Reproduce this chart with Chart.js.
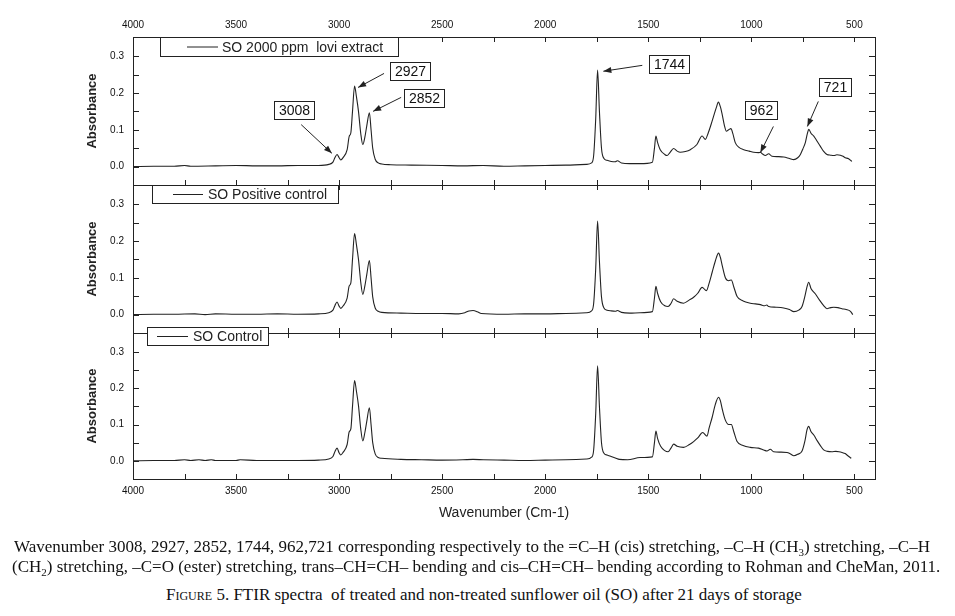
<!DOCTYPE html>
<html>
<head>
<meta charset="utf-8">
<script src="https://cdn.jsdelivr.net/npm/chart.js@4.4.1/dist/chart.umd.min.js"></script>
<style>
  body { margin: 0; background: #fff; width: 955px; height: 616px; position: relative; overflow: hidden; }
  canvas { position: absolute; left: 0; }
  .cap { position: absolute; font-family: "Liberation Serif", "Times New Roman", serif; color: #111; white-space: nowrap; line-height: 20px; font-size: 17px; }
  .cap sub { font-size: 11px; line-height: 0; }
</style>
</head>
<body>
<canvas id="p1" width="955" height="205" style="top:0px"></canvas>
<canvas id="p2" width="955" height="193" style="top:162px"></canvas>
<canvas id="p3" width="955" height="226" style="top:310px"></canvas>

<div class="cap" style="left:14px; top:537px">Wavenumber 3008, 2927, 2852, 1744, 962,721 corresponding respectively to the =C–H (cis) stretching, –C–H (CH<sub>3</sub>) stretching, –C–H</div>
<div class="cap" style="left:12px; top:557px">(CH<sub>2</sub>) stretching, –C=O (ester) stretching, trans–CH=CH– bending and cis–CH=CH– bending according to Rohman and CheMan, 2011.</div>
<div class="cap" style="left:166px; top:585px"><span style="font-variant:small-caps">Figure</span> 5. FTIR spectra&nbsp; of treated and non-treated sunflower oil (SO) after 21 days of storage</div>

<script>
// Axis ticks
const xMajorTicks = [4000, 3500, 3000, 2500, 2000, 1500, 1000, 500];
const xMinorTicks = [3750, 3250, 2750, 2250, 1750, 1250, 750];
const yMajorTicks = [0, 0.1, 0.2, 0.3];
const yMinorTicks = [0.05, 0.15, 0.25];

// Series labels
const seriesLabels = ["SO 2000 ppm  lovi extract", "SO Positive control", "SO Control"];

// [wavenumber, absorbance]
const loviExtract = [
  [4000, 0.000], [3900, 0.001], [3800, 0.001], [3750, 0.003], [3720, 0.001], [3600, 0.002],
  [3500, 0.003], [3400, 0.002], [3300, 0.002], [3200, 0.003], [3100, 0.003], [3050, 0.006],
  [3030, 0.012], [3020, 0.025], [3010, 0.033], [3000, 0.024], [2992, 0.018], [2980, 0.025],
  [2961, 0.046], [2951, 0.082], [2943, 0.092], [2935, 0.150], [2925, 0.219], [2916, 0.190],
  [2906, 0.150], [2895, 0.090], [2885, 0.060], [2875, 0.080], [2866, 0.110], [2853, 0.146],
  [2845, 0.100], [2837, 0.050], [2825, 0.020], [2810, 0.010], [2793, 0.007], [2750, 0.005],
  [2650, 0.004], [2500, 0.003], [2400, 0.002], [2300, 0.003], [2200, 0.001], [2100, 0.002],
  [2000, 0.003], [1900, 0.004], [1800, 0.006], [1775, 0.010], [1765, 0.030], [1755, 0.130],
  [1746, 0.262], [1737, 0.150], [1727, 0.050], [1715, 0.022], [1700, 0.017], [1680, 0.014],
  [1660, 0.013], [1650, 0.016], [1630, 0.010], [1590, 0.008], [1540, 0.008], [1480, 0.012],
  [1470, 0.050], [1463, 0.083], [1455, 0.066], [1442, 0.046], [1420, 0.033], [1409, 0.030],
  [1395, 0.038], [1377, 0.049], [1360, 0.042], [1345, 0.039], [1320, 0.041], [1296, 0.046],
  [1264, 0.060], [1239, 0.083], [1223, 0.074], [1210, 0.090], [1195, 0.115], [1183, 0.137],
  [1170, 0.160], [1160, 0.175], [1150, 0.162], [1143, 0.146], [1130, 0.110], [1121, 0.096],
  [1110, 0.100], [1099, 0.103], [1090, 0.090], [1078, 0.065], [1060, 0.052], [1037, 0.046],
  [1010, 0.042], [989, 0.039], [965, 0.038], [956, 0.039], [945, 0.034], [932, 0.030],
  [916, 0.035], [900, 0.028], [870, 0.027], [843, 0.026], [815, 0.022], [794, 0.019],
  [775, 0.024], [762, 0.033], [750, 0.048], [738, 0.065], [728, 0.090], [721, 0.101],
  [710, 0.090], [697, 0.083], [680, 0.068], [665, 0.055], [650, 0.042], [633, 0.033],
  [615, 0.031], [600, 0.030], [585, 0.032], [568, 0.031], [555, 0.028], [544, 0.024],
  [530, 0.022], [512, 0.014]
];

const positiveControl = [
  [4000, 0.000], [3900, 0.001], [3800, 0.001], [3700, 0.002], [3650, 0.000], [3600, 0.002],
  [3500, 0.001], [3400, 0.001], [3300, 0.002], [3200, 0.001], [3100, 0.002], [3050, 0.005],
  [3030, 0.012], [3020, 0.025], [3010, 0.034], [3000, 0.023], [2992, 0.017], [2980, 0.024],
  [2961, 0.045], [2951, 0.078], [2943, 0.086], [2935, 0.150], [2925, 0.220], [2916, 0.190],
  [2906, 0.150], [2895, 0.088], [2885, 0.055], [2875, 0.078], [2866, 0.108], [2853, 0.147],
  [2845, 0.100], [2837, 0.048], [2825, 0.018], [2810, 0.009], [2793, 0.006], [2700, 0.004],
  [2600, 0.003], [2500, 0.003], [2420, 0.002], [2390, 0.005], [2370, 0.010], [2350, 0.011],
  [2330, 0.008], [2310, 0.003], [2200, 0.001], [2100, 0.002], [2000, 0.002], [1900, 0.003],
  [1800, 0.005], [1775, 0.010], [1765, 0.030], [1755, 0.125], [1746, 0.254], [1737, 0.145],
  [1727, 0.048], [1715, 0.018], [1700, 0.012], [1680, 0.010], [1660, 0.009], [1650, 0.011],
  [1630, 0.006], [1590, 0.004], [1540, 0.005], [1480, 0.008], [1470, 0.045], [1463, 0.077],
  [1455, 0.058], [1440, 0.035], [1420, 0.024], [1404, 0.022], [1390, 0.030], [1377, 0.043],
  [1360, 0.036], [1329, 0.031], [1300, 0.040], [1280, 0.047], [1260, 0.058], [1239, 0.074],
  [1218, 0.065], [1205, 0.085], [1190, 0.115], [1175, 0.145], [1159, 0.167], [1150, 0.155],
  [1140, 0.130], [1126, 0.100], [1110, 0.092], [1097, 0.094], [1085, 0.075], [1069, 0.049],
  [1040, 0.037], [1005, 0.031], [980, 0.029], [956, 0.027], [935, 0.024], [925, 0.026],
  [916, 0.022], [880, 0.020], [843, 0.018], [815, 0.014], [794, 0.008], [770, 0.012],
  [754, 0.022], [740, 0.050], [730, 0.075], [722, 0.088], [710, 0.070], [689, 0.056],
  [670, 0.040], [650, 0.025], [633, 0.016], [615, 0.019], [600, 0.020], [580, 0.019],
  [560, 0.016], [540, 0.014], [519, 0.009], [508, 0.000]
];

const soControl = [
  [4000, 0.000], [3900, 0.001], [3800, 0.001], [3750, 0.003], [3720, 0.001], [3680, 0.003],
  [3650, 0.001], [3620, 0.003], [3600, 0.001], [3500, 0.001], [3480, 0.003], [3400, 0.001],
  [3300, 0.001], [3200, 0.001], [3100, 0.002], [3050, 0.005], [3030, 0.012], [3020, 0.026],
  [3010, 0.035], [3000, 0.022], [2992, 0.016], [2980, 0.024], [2961, 0.045], [2951, 0.080],
  [2943, 0.088], [2935, 0.150], [2925, 0.221], [2916, 0.192], [2906, 0.152], [2895, 0.088],
  [2885, 0.055], [2875, 0.078], [2866, 0.108], [2853, 0.146], [2845, 0.100], [2837, 0.050],
  [2825, 0.019], [2810, 0.009], [2793, 0.007], [2700, 0.004], [2600, 0.003], [2500, 0.002],
  [2400, 0.003], [2350, 0.004], [2300, 0.003], [2200, 0.002], [2100, 0.001], [2000, 0.002],
  [1900, 0.003], [1800, 0.005], [1775, 0.010], [1765, 0.030], [1755, 0.130], [1746, 0.262],
  [1737, 0.150], [1727, 0.050], [1715, 0.021], [1700, 0.016], [1680, 0.012], [1660, 0.008],
  [1640, 0.004], [1600, 0.003], [1540, 0.009], [1480, 0.011], [1470, 0.050], [1463, 0.082],
  [1455, 0.062], [1440, 0.040], [1420, 0.028], [1404, 0.025], [1390, 0.035], [1377, 0.046],
  [1360, 0.040], [1329, 0.037], [1300, 0.045], [1280, 0.053], [1260, 0.063], [1236, 0.078],
  [1215, 0.068], [1205, 0.090], [1190, 0.120], [1175, 0.155], [1159, 0.175], [1150, 0.165],
  [1140, 0.140], [1126, 0.112], [1110, 0.100], [1097, 0.100], [1085, 0.080], [1069, 0.053],
  [1040, 0.042], [1005, 0.037], [965, 0.035], [940, 0.030], [924, 0.027], [908, 0.032],
  [892, 0.025], [860, 0.024], [827, 0.023], [810, 0.019], [794, 0.014], [775, 0.018],
  [754, 0.027], [740, 0.055], [730, 0.085], [722, 0.095], [710, 0.080], [697, 0.071],
  [680, 0.055], [665, 0.042], [649, 0.030], [630, 0.026], [609, 0.025], [590, 0.026],
  [575, 0.025], [560, 0.023], [545, 0.020], [536, 0.016], [515, 0.007]
];

// Peak call-outs on the top panel: box centre, arrow tail, arrow tip in [wavenumber, absorbance]
const peakNotes = [
  { text: "3008", box: [3218, 0.153], tail: [3184, 0.114], tip: [3035, 0.036] },
  { text: "2927", box: [2655, 0.260], tail: [2782, 0.253], tip: [2908, 0.215] },
  { text: "2852", box: [2587, 0.187], tail: [2699, 0.188], tip: [2835, 0.150] },
  { text: "1744", box: [1400, 0.279], tail: [1529, 0.275], tip: [1718, 0.259] },
  { text: "962", box: [954, 0.154], tail: [893, 0.109], tip: [956, 0.038] },
  { text: "721", box: [595, 0.215], tail: [675, 0.177], tip: [728, 0.109] }
];

const INK = "#222";
const SANS = "'Liberation Sans', Arial, sans-serif";

// Frame, inward ticks, boxed legend and call-outs
const panelFrame = {
  id: "panelFrame",
  afterDatasetsDraw(chart, args, opts) {
    const { ctx, chartArea: a, scales: { x, y } } = chart;
    ctx.save();
    ctx.strokeStyle = INK;
    ctx.lineWidth = 1;
    ctx.strokeRect(a.left + 0.5, a.top + 0.5, a.right - a.left, a.bottom - a.top);

    ctx.beginPath();
    xMajorTicks.concat(xMinorTicks).forEach((v) => {
      const px = Math.round(x.getPixelForValue(v)) + 0.5;
      ctx.moveTo(px, a.top); ctx.lineTo(px, a.top + 5);
      ctx.moveTo(px, a.bottom); ctx.lineTo(px, a.bottom - 5);
    });
    yMajorTicks.concat(yMinorTicks).forEach((v) => {
      const py = Math.round(y.getPixelForValue(v)) + 0.5;
      ctx.moveTo(a.left, py); ctx.lineTo(a.left + 6, py);
      ctx.moveTo(a.right, py); ctx.lineTo(a.right - 6, py);
    });
    ctx.stroke();

    // legend box
    const lg = opts.legend;
    const lx = a.left + lg.dx, ly = a.top + lg.dy;
    ctx.fillStyle = "#fff";
    ctx.fillRect(lx, ly, lg.w, lg.h);
    ctx.strokeRect(lx + 0.5, ly + 0.5, lg.w, lg.h);
    const ds = chart.data.datasets[0];
    ctx.beginPath();
    ctx.strokeStyle = ds.borderColor;
    ctx.moveTo(lx + lg.lineFrom, ly + lg.h / 2 + 0.5);
    ctx.lineTo(lx + lg.lineTo, ly + lg.h / 2 + 0.5);
    ctx.stroke();
    ctx.fillStyle = INK;
    ctx.font = "14px " + SANS;
    ctx.textAlign = "left";
    ctx.textBaseline = "middle";
    ctx.fillText(ds.label, lx + lg.textAt, ly + lg.h / 2 + 1.5);

    // call-outs
    (opts.notes || []).forEach((n) => {
      const bx = x.getPixelForValue(n.box[0]), by = y.getPixelForValue(n.box[1]);
      const tx = x.getPixelForValue(n.tail[0]), ty = y.getPixelForValue(n.tail[1]);
      const hx = x.getPixelForValue(n.tip[0]), hy = y.getPixelForValue(n.tip[1]);
      ctx.strokeStyle = INK;
      ctx.fillStyle = INK;
      ctx.beginPath(); ctx.moveTo(tx, ty); ctx.lineTo(hx, hy); ctx.stroke();
      const ang = Math.atan2(hy - ty, hx - tx), L = 8, W = 3;
      ctx.beginPath();
      ctx.moveTo(hx, hy);
      ctx.lineTo(hx - L * Math.cos(ang) + W * Math.sin(ang), hy - L * Math.sin(ang) - W * Math.cos(ang));
      ctx.lineTo(hx - L * Math.cos(ang) - W * Math.sin(ang), hy - L * Math.sin(ang) + W * Math.cos(ang));
      ctx.closePath();
      ctx.fill();

      ctx.font = "14px " + SANS;
      const w = Math.round(ctx.measureText(n.text).width + 9), h = 18;
      const rx = Math.round(bx - w / 2), ry = Math.round(by - h / 2);
      ctx.fillStyle = "#fff";
      ctx.fillRect(rx, ry, w, h);
      ctx.strokeRect(rx + 0.5, ry + 0.5, w, h);
      ctx.fillStyle = "#111";
      ctx.textAlign = "center";
      ctx.textBaseline = "middle";
      ctx.fillText(n.text, rx + w / 2 + 0.5, ry + h / 2 + 1.5);
    });
    ctx.restore();
  }
};

function makePanel(id, label, points, cfg) {
  return new Chart(document.getElementById(id), {
    type: "line",
    data: {
      datasets: [{
        label: label,
        data: points.map(([wn, ab]) => ({ x: wn, y: ab })),
        borderColor: INK,
        borderWidth: 1.1,
        pointRadius: 0,
        cubicInterpolationMode: "monotone",
        fill: false
      }]
    },
    options: {
      responsive: false,
      animation: false,
      events: [],
      layout: { padding: cfg.padding },
      plugins: {
        legend: { display: false },
        tooltip: { enabled: false },
        panelFrame: { legend: cfg.legend, notes: cfg.notes }
      },
      scales: {
        x: {
          type: "linear",
          reverse: true,
          min: 400,
          max: 4000,
          position: cfg.xPos || "bottom",
          display: cfg.xShow,
          grid: { display: false, drawTicks: false },
          border: { display: false },
          afterBuildTicks: (s) => { s.ticks = xMajorTicks.map((value) => ({ value })); },
          afterFit: (s) => { if (cfg.xHeight) s.height = cfg.xHeight; },
          ticks: {
            autoSkip: false,
            maxRotation: 0,
            padding: cfg.xPad || 0,
            color: "#111",
            font: { family: SANS, size: 10 },
            callback: (v) => String(v)
          },
          title: cfg.xTitle || { display: false }
        },
        y: {
          type: "linear",
          min: -0.05,
          max: 0.352,
          grid: { display: false, drawTicks: false },
          border: { display: false },
          afterBuildTicks: (s) => { s.ticks = yMajorTicks.map((value) => ({ value })); },
          afterFit: (s) => { s.width = 53; },
          ticks: {
            padding: 9,
            color: "#111",
            font: { family: SANS, size: 10 },
            callback: (v) => Number(v).toFixed(1)
          },
          title: {
            display: true,
            text: "Absorbance",
            color: INK,
            font: { family: SANS, size: 13, weight: "bold" },
            padding: { top: 5, bottom: 0 }
          }
        }
      }
    },
    plugins: [panelFrame]
  });
}

makePanel("p1", seriesLabels[0], loviExtract, {
  padding: { left: 80, right: 80, top: 0, bottom: 20 },
  xPos: "top", xShow: true, xHeight: 37, xPad: 6,
  legend: { dx: 27, dy: 0, w: 238, h: 19, lineFrom: 27, lineTo: 58, textAt: 62 },
  notes: peakNotes
});

makePanel("p2", seriesLabels[1], positiveControl, {
  padding: { left: 80, right: 80, top: 23, bottom: 22 },
  xShow: false,
  legend: { dx: 19, dy: 0, w: 186, h: 18, lineFrom: 21, lineTo: 51, textAt: 56 }
});

makePanel("p3", seriesLabels[2], soControl, {
  padding: { left: 80, right: 80, top: 23, bottom: 0 },
  xShow: true, xHeight: 57, xPad: 6,
  xTitle: {
    display: true,
    text: "Wavenumber (Cm-1)",
    color: INK,
    font: { family: SANS, size: 14 },
    padding: { top: 0, bottom: 14 }
  },
  legend: { dx: 14, dy: -6, w: 121, h: 18, lineFrom: 10, lineTo: 41, textAt: 46 }
});
</script>
</body>
</html>
